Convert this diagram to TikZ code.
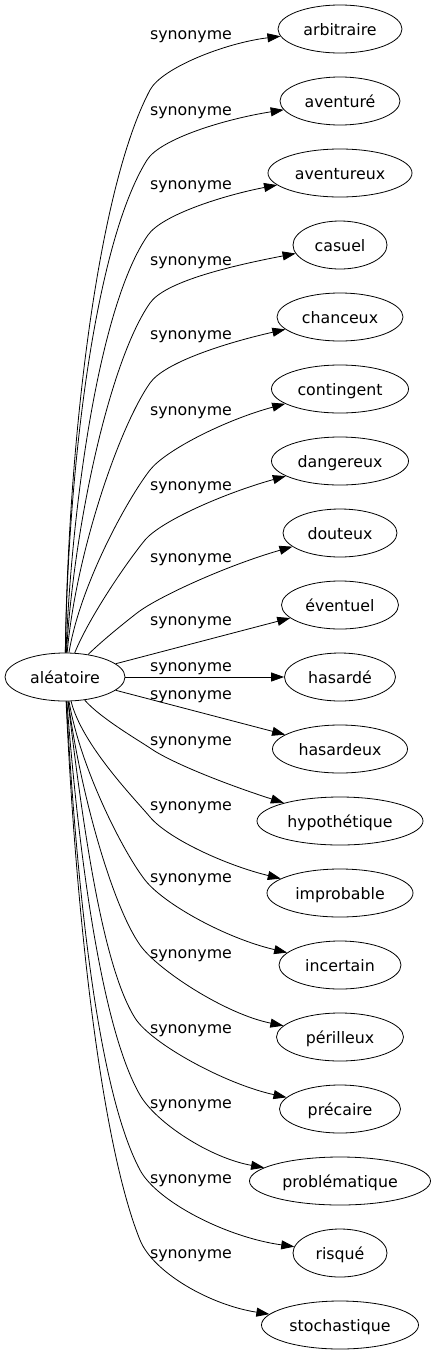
\documentclass[tikz,border=0pt]{standalone}
\usepackage{fontspec}
\setmainfont{DejaVu Sans}
\usetikzlibrary{shapes.geometric,arrows.meta}

\tikzset{
	word/.style = {ellipse, draw, line width = 0.8pt, minimum height = 48pt, inner sep = 0pt,
		text height = 12pt, text depth = 0pt, font = \fontsize{15.8}{18}\selectfont},
	rel/.style = {anchor = base, font = \fontsize{15.8}{18}\selectfont},
	syn/.style = {line width = 0.8pt, -{Triangle[length = 13pt, width = 9pt]}}
}

\begin{document}
\begin{tikzpicture}[x = 1pt, y = -1pt]
	\useasboundingbox (0, 0) rectangle (435, 1355);
	
	\node[word, minimum width = 120pt] (alea) at (65, 677) {aléatoire};
	
	\foreach \n/\w/\txt [count = \i from 0] in {arbitraire/124/arbitraire, aventure/120/aventuré,
		aventureux/144/aventureux, casuel/94/casuel, chanceux/126/chanceux, contingent/137/contingent,
		dangereux/137/dangereux, douteux/114/douteux, eventuel/117/éventuel, hasarde/111/hasardé,
		hasardeux/135/hasardeux, hypothetique/166/hypothétique, improbable/146/improbable,
		incertain/122/incertain, perilleux/127/périlleux, precaire/121/précaire,
		problematique/181/problématique, risque/94/risqué, stochastique/157/stochastique}
	\node[word, minimum width = \w pt] (\n) at (340, {29 + 72*\i}) {\txt};
	
	\foreach \y [count = \i] in {39.5, 115, 189, 265, 339, 415, 490, 562, 625, 671, 699,
		745, 810, 882, 958, 1033, 1108, 1183, 1258}
	\node[rel] (lab\i) at (191, \y) {synonyme};
	
	% bent edges: first control, knee, knee angle, second length, last control
	\foreach \tgt/\ax/\ay/\kx/\ky/\ang/\lenb/\ex/\ey in {
		arbitraire/68/445/150/90/62/25/225/43,
		aventure/68/470/147/160/58/25/225/119,
		aventureux/72/500/148/235/55/25/225/195,
		casuel/74/525/150/303/55/25/225/267,
		chanceux/76/553/150/383/55/25/225/343,
		contingent/80/585/150/470/52/25/225/420,
		dangereux/90/615/145/540/50/25/225/493,
		douteux/105/638/137/613/38/25/225/566,
		hypothetique/100/718/150/748/-35/25/225/784,
		improbable/82/745/150/817/-50/28/225/865,
		incertain/80/767/145/880/-52/30/225/938,
		perilleux/80/791/140/945/-55/30/225/1014,
		precaire/82/818/135/1018/-58/30/225/1084,
		problematique/78/847/140/1095/-60/32/210/1158,
		risque/76/875/140/1170/-62/35/225/1237,
		stochastique/75/900/140/1240/-68/35/210/1305}
	{
		\pgfmathsetmacro\lena{0.2*(abs(\ky - 677) - 24)}
		\draw[syn] (alea) .. controls (\ax, \ay) and ({\kx - \lena*cos(\ang)}, {\ky + \lena*sin(\ang)})
			.. (\kx, \ky) .. controls ({\kx + \lenb*cos(\ang)}, {\ky - \lenb*sin(\ang)}) and (\ex, \ey) .. (\tgt);
	}
	
	\draw[syn] (alea) -- (eventuel);
	\draw[syn] (alea) -- (hasarde);
	\draw[syn] (alea) -- (hasardeux);
\end{tikzpicture}
\end{document}
